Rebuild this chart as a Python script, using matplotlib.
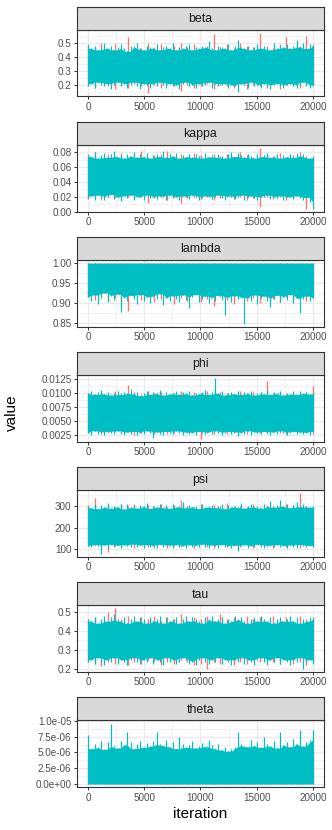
import numpy as np
import matplotlib
matplotlib.use("Agg")
import matplotlib.pyplot as plt
from matplotlib.ticker import FixedLocator, FuncFormatter, AutoMinorLocator

plt.rcParams['font.family'] = ['Liberation Sans', 'DejaVu Sans']

# ---------------- data ----------------
parameters = ["beta", "kappa", "lambda", "phi", "psi", "tau", "theta"]
n_iter = 20000
x_ticks = [0, 5000, 10000, 15000, 20000]
chain_colors = ["#F8766D", "#00BFC4"]   # chain 1 (red), chain 2 (cyan)

# upper / lower spike extremes of each chain, left to right along the iterations
beta_c1_hi = [0.48,0.47,0.50,0.46,0.49,0.47,0.54,0.48,0.46,0.50,0.47,0.49,0.46,0.48,0.50,0.47,0.49,0.46,0.48,0.56,0.47,0.49,0.46,0.50,0.48,0.47,0.57,0.48,0.46,0.49,0.54,0.47,0.48,0.55,0.49]
beta_c1_lo = [0.20,0.18,0.21,0.19,0.17,0.20,0.18,0.21,0.19,0.14,0.20,0.18,0.21,0.19,0.155,0.20,0.18,0.19,0.21,0.17,0.20,0.19,0.18,0.21,0.17,0.20,0.19,0.18,0.21,0.17,0.20,0.19,0.18,0.20,0.19]
beta_c2_hi = [0.49,0.46,0.48,0.45,0.47,0.50,0.46,0.48,0.45,0.47,0.49,0.46,0.44,0.48,0.47,0.50,0.46,0.45,0.48,0.47,
              0.46,0.49,0.45,0.47,0.48,0.46,0.50,0.45,0.47,0.46,0.48,0.49,0.45,0.47,0.46,0.48,0.47,0.51,0.46,0.45,
              0.48,0.47,0.46,0.49,0.45,0.48,0.52,0.47,0.46,0.48,0.45,0.47,0.49,0.46,0.48,0.47,0.45,0.50,0.46,0.48,
              0.47,0.49,0.46,0.48,0.52,0.47,0.50,0.46,0.49,0.48]
beta_c2_lo = [0.19,0.21,0.18,0.22,0.20,0.19,0.21,0.17,0.20,0.22,0.19,0.21,0.18,0.20,0.22,0.19,0.17,0.21,0.20,0.18,
              0.21,0.19,0.22,0.20,0.18,0.21,0.19,0.20,0.17,0.21,0.22,0.19,0.20,0.18,0.21,0.19,0.20,0.22,0.18,0.21,
              0.19,0.20,0.21,0.18,0.20,0.19,0.15,0.21,0.20,0.18,0.22,0.19,0.20,0.18,0.21,0.19,0.17,0.20,0.21,0.19,
              0.18,0.20,0.21,0.19,0.18,0.20,0.22,0.19,0.18,0.20]

kappa_c1_hi = [0.076,0.080,0.074,0.078,0.075,0.079,0.073,0.077,0.081,0.074,0.076,0.078,0.082,0.075,0.077,0.073,0.079,0.076,0.074,0.078,0.075,0.077,0.073,0.080,0.076,0.074,0.0855,0.077,0.075,0.079,0.074,0.076,0.080,0.075,0.074]
kappa_c1_lo = [0.017,0.020,0.015,0.019,0.018,0.016,0.020,0.017,0.019,0.012,0.018,0.020,0.016,0.019,0.011,0.018,0.020,0.017,0.019,0.016,0.018,0.020,0.017,0.019,0.016,0.018,0.006,0.019,0.017,0.020,0.016,0.018,0.019,0.004,0.018]
kappa_c2_hi = [0.078,0.074,0.080,0.072,0.076,0.079,0.073,0.077,0.081,0.074,0.076,0.072,0.078,0.075,0.080,0.073,0.077,0.074,0.079,0.072,
               0.076,0.078,0.074,0.081,0.073,0.077,0.075,0.079,0.072,0.076,0.074,0.078,0.073,0.077,0.075,0.072,0.079,0.074,0.076,0.073,
               0.077,0.075,0.072,0.078,0.080,0.074,0.079,0.076,0.073,0.077,0.075,0.072,0.078,0.074,0.076,0.079,0.073,0.075,0.077,0.072,
               0.076,0.074,0.078,0.073,0.079,0.075,0.077,0.074,0.072,0.075]
kappa_c2_lo = [0.018,0.021,0.015,0.022,0.019,0.016,0.020,0.023,0.017,0.019,0.014,0.021,0.018,0.022,0.016,0.020,0.019,0.015,0.022,0.018,
               0.020,0.017,0.021,0.019,0.016,0.022,0.018,0.020,0.015,0.021,0.019,0.017,0.022,0.020,0.016,0.018,0.021,0.019,0.017,0.020,
               0.022,0.018,0.016,0.021,0.019,0.017,0.020,0.022,0.015,0.019,0.021,0.018,0.016,0.020,0.019,0.022,0.017,0.020,0.018,0.021,
               0.016,0.019,0.020,0.017,0.021,0.018,0.015,0.019,0.013,0.004]

lambda_c1_hi = 1.0   # chain pinned at the upper bound
lambda_c1_lo = [0.915,0.908,0.920,0.905,0.912,0.900,0.880,0.914,0.907,0.918,0.903,0.911,0.916,0.898,0.913,0.906,0.919,0.902,0.910,0.893,0.915,0.908,0.897,0.917,0.905,0.912,0.900,0.916,0.909,0.903,0.914,0.907,0.911,0.904,0.913]
lambda_c2_hi = 1.0
lambda_c2_lo = [0.915,0.905,0.920,0.898,0.912,0.925,0.903,0.918,0.908,0.922,0.877,0.913,0.904,0.919,0.910,0.897,0.921,0.906,0.915,0.900,
                0.917,0.909,0.923,0.895,0.912,0.905,0.918,0.910,0.902,0.920,0.907,0.888,0.914,0.921,0.903,0.911,0.917,0.899,0.913,0.906,
                0.919,0.908,0.870,0.915,0.902,0.918,0.909,0.914,0.848,0.912,0.906,0.920,0.898,0.913,0.917,0.904,0.890,0.911,0.919,0.903,
                0.915,0.908,0.921,0.900,0.912,0.876,0.910,0.917,0.905,0.913]

phi_c1_hi = [0.0101,0.0098,0.0103,0.0099,0.0105,0.0100,0.0115,0.0102,0.0098,0.0104,0.0100,0.0103,0.0097,0.0101,0.0105,0.0099,0.0102,0.0100,0.0104,0.0098,0.0103,0.0101,0.0099,0.0105,0.0100,0.0102,0.0098,0.0122,0.0101,0.0103,0.0099,0.0104,0.0100,0.0102,0.0114]
phi_c1_lo = [0.0029,0.0032,0.0027,0.0030,0.0033,0.0028,0.0031,0.0026,0.0030,0.0032,0.0028,0.0031,0.0027,0.0030,0.0033,0.0029,0.0031,0.0019,0.0030,0.0028,0.0032,0.0027,0.0030,0.0031,0.0028,0.0033,0.0029,0.0027,0.0031,0.0030,0.0028,0.0032,0.0029,0.0031,0.0027]
phi_c2_hi = [0.0100,0.0104,0.0098,0.0102,0.0106,0.0099,0.0103,0.0097,0.0101,0.0105,0.0098,0.0102,0.0100,0.0107,0.0099,0.0103,0.0096,0.0101,0.0104,0.0098,
             0.0102,0.0100,0.0106,0.0097,0.0103,0.0099,0.0101,0.0105,0.0098,0.0102,0.0100,0.0104,0.0097,0.0101,0.0099,0.0103,0.0106,0.0098,0.0102,0.0127,
             0.0100,0.0104,0.0097,0.0101,0.0103,0.0099,0.0105,0.0098,0.0102,0.0100,0.0104,0.0097,0.0101,0.0103,0.0099,0.0106,0.0098,0.0102,0.0100,0.0104,
             0.0097,0.0101,0.0099,0.0103,0.0098,0.0105,0.0100,0.0102,0.0099,0.0101]
phi_c2_lo = [0.0030,0.0026,0.0033,0.0028,0.0031,0.0025,0.0032,0.0029,0.0027,0.0033,0.0030,0.0026,0.0031,0.0028,0.0032,0.0025,0.0030,0.0027,0.0033,0.0029,
             0.0021,0.0031,0.0028,0.0026,0.0032,0.0030,0.0027,0.0033,0.0029,0.0025,0.0031,0.0028,0.0030,0.0026,0.0032,0.0029,0.0027,0.0031,0.0028,0.0033,
             0.0030,0.0026,0.0029,0.0032,0.0027,0.0031,0.0024,0.0030,0.0028,0.0033,0.0026,0.0031,0.0029,0.0027,0.0032,0.0030,0.0025,0.0031,0.0028,0.0033,
             0.0029,0.0026,0.0030,0.0032,0.0027,0.0031,0.0028,0.0030,0.0026,0.0032]

psi_c1_hi = [305,340,298,310,295,308,300,312,296,304,299,311,294,306,330,301,297,309,293,305,300,313,296,303,298,310,294,307,301,299,312,305,360,300,297]
psi_c1_lo = [112,118,106,86,115,108,120,104,117,110,106,119,102,114,108,121,105,116,110,103,118,107,114,109,120,104,116,111,106,119,108,113,105,117,110]
psi_c2_hi = [300,292,310,288,305,296,315,290,302,298,308,287,312,295,303,291,306,299,314,289,
             301,297,309,293,304,290,311,296,300,318,292,306,298,303,289,310,295,301,307,293,
             299,312,288,305,297,302,294,316,291,300,308,296,303,290,312,298,322,295,306,331,
             299,310,293,304,318,297,308,301,295,302]
psi_c2_lo = [115,108,120,112,77,118,106,121,110,116,104,119,113,107,122,109,117,103,120,111,
             114,105,121,108,118,112,106,120,110,115,103,119,109,116,107,122,111,104,118,113,
             106,120,109,115,103,117,92,112,119,106,114,108,121,110,104,117,112,107,120,109,
             115,103,118,111,106,120,113,108,116,110]

tau_c1_hi = [0.46,0.47,0.45,0.50,0.517,0.46,0.48,0.45,0.47,0.46,0.48,0.45,0.47,0.46,0.49,0.45,0.47,0.46,0.48,0.45,0.49,0.46,0.47,0.45,0.48,0.46,0.47,0.45,0.48,0.46,0.47,0.45,0.48,0.46,0.47]
tau_c1_lo = [0.24,0.23,0.215,0.24,0.23,0.25,0.22,0.24,0.23,0.25,0.24,0.22,0.24,0.23,0.25,0.24,0.22,0.23,0.202,0.24,0.23,0.25,0.22,0.24,0.23,0.25,0.24,0.22,0.24,0.23,0.25,0.23,0.24,0.22,0.24]
tau_c2_hi = [0.46,0.45,0.47,0.44,0.46,0.48,0.45,0.47,0.49,0.46,0.45,0.47,0.44,0.46,0.48,0.45,0.47,0.46,0.44,0.47,
             0.45,0.46,0.48,0.44,0.47,0.45,0.46,0.47,0.44,0.46,0.48,0.45,0.47,0.46,0.45,0.44,0.47,0.46,0.48,0.45,
             0.46,0.47,0.44,0.46,0.45,0.48,0.46,0.47,0.45,0.44,0.46,0.47,0.45,0.48,0.46,0.45,0.47,0.44,0.46,0.47,
             0.45,0.46,0.48,0.45,0.47,0.44,0.46,0.45,0.47,0.46]
tau_c2_lo = [0.24,0.25,0.23,0.26,0.24,0.22,0.25,0.24,0.26,0.23,0.25,0.24,0.22,0.25,0.26,0.24,0.23,0.25,0.24,0.26,
             0.23,0.25,0.24,0.22,0.26,0.24,0.25,0.23,0.24,0.26,0.25,0.23,0.24,0.22,0.25,0.26,0.24,0.23,0.25,0.24,
             0.26,0.23,0.25,0.24,0.22,0.25,0.24,0.26,0.23,0.25,0.24,0.22,0.25,0.26,0.24,0.23,0.25,0.24,0.26,0.23,
             0.25,0.24,0.22,0.25,0.24,0.26,0.203,0.24,0.25,0.23]

theta_c1_hi = [4.8e-6,5.2e-6,4.6e-6,5.0e-6,5.4e-6,4.7e-6,5.1e-6,4.9e-6,5.3e-6,4.6e-6,5.0e-6,5.2e-6,4.8e-6,5.5e-6,4.7e-6,5.1e-6,4.9e-6,5.3e-6,
               4.6e-6,5.0e-6,5.2e-6,4.8e-6,4.5e-6,5.1e-6,4.9e-6,5.3e-6,4.7e-6,5.0e-6,5.2e-6,4.8e-6,5.4e-6,4.9e-6,5.1e-6,4.7e-6,5.0e-6]
theta_c1_lo = 0.0    # chain pinned at the lower bound
theta_c2_hi = [7.7e-6,5.6e-6,6.3e-6,5.8e-6,6.8e-6,5.5e-6,6.6e-6,9.6e-6,6.0e-6,5.7e-6,6.9e-6,6.2e-6,8.3e-6,6.7e-6,5.6e-6,6.4e-6,6.8e-6,5.8e-6,6.5e-6,6.0e-6,
               6.9e-6,8.2e-6,6.3e-6,6.1e-6,7.0e-6,5.9e-6,6.6e-6,5.6e-6,7.5e-6,6.4e-6,5.8e-6,6.2e-6,6.8e-6,5.7e-6,6.0e-6,6.5e-6,5.9e-6,7.0e-6,6.2e-6,5.6e-6,
               6.3e-6,5.4e-6,5.8e-6,5.2e-6,5.6e-6,5.9e-6,8.2e-6,6.4e-6,6.1e-6,5.9e-6,7.0e-6,6.1e-6,6.6e-6,5.8e-6,7.4e-6,6.3e-6,6.0e-6,6.9e-6,5.7e-6,8.3e-6,
               6.2e-6,6.7e-6,5.9e-6,7.2e-6,6.4e-6,8.5e-6,6.0e-6,6.6e-6,7.0e-6,8.5e-6]
theta_c2_lo = 0.0

beta_yticks = [0.2, 0.3, 0.4, 0.5]
kappa_yticks = [0.00, 0.02, 0.04, 0.06, 0.08]
lambda_yticks = [0.85, 0.90, 0.95, 1.00]
phi_yticks = [0.0025, 0.0050, 0.0075, 0.0100, 0.0125]
psi_yticks = [100, 200, 300]
tau_yticks = [0.2, 0.3, 0.4, 0.5]
theta_yticks = [0.0, 2.5e-6, 5.0e-6, 7.5e-6, 1.0e-5]

panels = {
    "beta":   dict(c1=(beta_c1_hi, beta_c1_lo), c2=(beta_c2_hi, beta_c2_lo), ticks=beta_yticks, fmt="{:.1f}"),
    "kappa":  dict(c1=(kappa_c1_hi, kappa_c1_lo), c2=(kappa_c2_hi, kappa_c2_lo), ticks=kappa_yticks, fmt="{:.2f}"),
    "lambda": dict(c1=(lambda_c1_hi, lambda_c1_lo), c2=(lambda_c2_hi, lambda_c2_lo), ticks=lambda_yticks, fmt="{:.2f}"),
    "phi":    dict(c1=(phi_c1_hi, phi_c1_lo), c2=(phi_c2_hi, phi_c2_lo), ticks=phi_yticks, fmt="{:.4f}"),
    "psi":    dict(c1=(psi_c1_hi, psi_c1_lo), c2=(psi_c2_hi, psi_c2_lo), ticks=psi_yticks, fmt="{:.0f}"),
    "tau":    dict(c1=(tau_c1_hi, tau_c1_lo), c2=(tau_c2_hi, tau_c2_lo), ticks=tau_yticks, fmt="{:.1f}"),
    "theta":  dict(c1=(theta_c1_hi, theta_c1_lo), c2=(theta_c2_hi, theta_c2_lo), ticks=theta_yticks, fmt="{:.1e}"),
}

# ---------------- figure ----------------
W, H, DPI = 332, 830, 100
fig = plt.figure(figsize=(W / DPI, H / DPI), dpi=DPI)
fig.patch.set_facecolor("white")

LEFT, RIGHT = 77, 324
STRIP_H, PLOT_H = 23, 66.5
FIRST_TOP, PITCH = 7, 115.08
grid_col = "#EBEBEB"
dark = "#333333"


def chain_arrays(hi, lo):
    hi = np.atleast_1d(np.asarray(hi, dtype=float))
    lo = np.atleast_1d(np.asarray(lo, dtype=float))
    n = max(len(hi), len(lo))
    hi = np.broadcast_to(hi, (n,)).copy()
    lo = np.broadcast_to(lo, (n,)).copy()
    x = np.linspace(1, n_iter, n)
    return x, hi, lo


def local_min(a):
    p = np.pad(a, 1, mode="edge")
    return np.minimum(np.minimum(p[:-2], p[1:-1]), p[2:])


def px_rect(x0, top, w, h):
    return [x0 / W, 1 - (top + h) / H, w / W, h / H]


for i, name in enumerate(parameters):
    p = panels[name]
    top = FIRST_TOP + i * PITCH
    ax = fig.add_axes(px_rect(LEFT, top + STRIP_H, RIGHT - LEFT, PLOT_H))
    sax = fig.add_axes(px_rect(LEFT, top, RIGHT - LEFT, STRIP_H))

    allv = []
    for k, key in enumerate(["c1", "c2"]):
        x, hi, lo = chain_arrays(*p[key])
        col = chain_colors[k]
        # solid body of the chain: between the neighbouring spike bases
        body_hi = local_min(hi)
        body_lo = -local_min(-lo)
        if k == 1:
            ax.fill_between(x, body_lo, body_hi, color=col, lw=0, zorder=3 + 2 * k)
        # individual spikes
        ax.vlines(x, lo, hi, color=col, lw=0.95 if k == 0 else 0.85, zorder=4 + 2 * k)
        allv += [hi, lo]
    allv = np.concatenate(allv)

    # limits (5% expansion like ggplot)
    lo_v, hi_v = allv.min(), allv.max()
    pad = 0.05 * (hi_v - lo_v)
    ax.set_ylim(lo_v - pad, hi_v + pad)
    ax.set_xlim(1 - 0.05 * (n_iter - 1), n_iter + 0.05 * (n_iter - 1))

    ax.yaxis.set_major_locator(FixedLocator(p["ticks"]))
    fmt = p["fmt"]
    ax.yaxis.set_major_formatter(FuncFormatter(lambda v, pos, fmt=fmt: fmt.format(v)))
    ax.xaxis.set_major_locator(FixedLocator(x_ticks))
    ax.xaxis.set_major_formatter(FuncFormatter(lambda v, pos: f"{v:.0f}"))
    ax.xaxis.set_minor_locator(AutoMinorLocator(2))
    ax.yaxis.set_minor_locator(AutoMinorLocator(2))

    ax.set_facecolor("white")
    ax.grid(True, which="major", color=grid_col, lw=0.9, zorder=0)
    ax.grid(True, which="minor", color=grid_col, lw=0.45, zorder=0)
    ax.set_axisbelow(True)
    for s in ax.spines.values():
        s.set_color(dark)
        s.set_linewidth(0.8)
    ax.tick_params(which="major", length=2.4, width=0.7, color=dark, labelcolor="#4D4D4D",
                   labelsize=7.1, pad=1.6)
    ax.tick_params(which="minor", length=0)

    # strip
    sax.set_facecolor("#D9D9D9")
    sax.set_xticks([])
    sax.set_yticks([])
    for s in sax.spines.values():
        s.set_color(dark)
        s.set_linewidth(0.8)
    sax.text(0.5, 0.47, name, ha="center", va="center", fontsize=8.9, color="#1A1A1A",
             transform=sax.transAxes)

fig.text((LEFT + RIGHT) / 2 / W, 1 - 814 / H, "iteration", ha="center", va="center",
         fontsize=11, color="black")
fig.text(12 / W, 1 - 413 / H, "value", ha="center", va="center", rotation=90,
         fontsize=11, color="black")

fig.savefig("out.png", dpi=DPI, facecolor="white")
